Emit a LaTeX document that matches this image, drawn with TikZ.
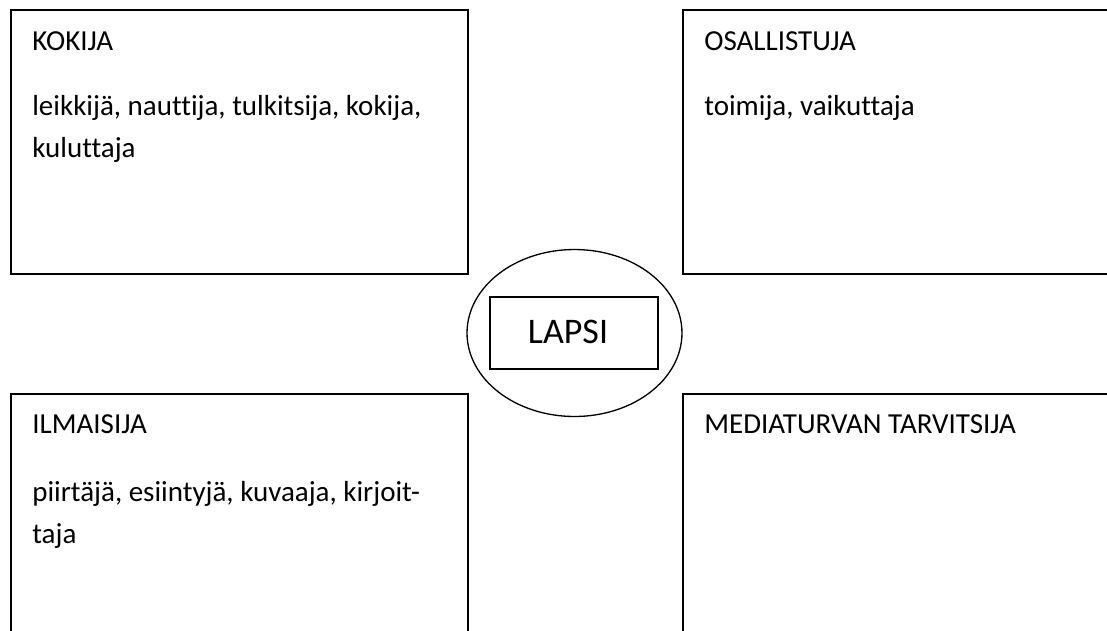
\documentclass[tikz,border=0pt]{standalone}
\usepackage{fontspec}
\setmainfont[Ligatures=NoCommon]{Carlito}
\usetikzlibrary{shapes,positioning}

\begin{document}
\begin{tikzpicture}[
    x=0.02cm, y=-0.02cm,
    role/.style={rectangle, draw, line width=1.1pt, minimum width=9.14cm, minimum height=5.28cm, anchor=north west, inner sep=0pt},
    roletext/.style={anchor=north west, inner sep=0pt, align=left, font=\fontsize{16.5}{24.4}\selectfont},
    child/.style={ellipse, draw, line width=0.75pt, minimum width=4.3cm, minimum height=3.34cm, inner sep=0pt},
    childbox/.style={rectangle, draw, line width=0.75pt, minimum width=3.36cm, minimum height=1.44cm},
    childname/.style={inner sep=0pt, font=\fontsize{20.5}{24}\selectfont}
]
\useasboundingbox (0,0) rectangle (1107,630);
\clip (0,0) rectangle (1107,630);

% Role boxes
\node[role] (kokija) at (10,9) {};
\node[role] (osallistuja) at (682,9) {};
\node[role] (ilmaisija) at (10,393) {};
\node[role] (mediaturva) at (682,393) {};

% Texts in the boxes
\node[roletext] (kokija-text) at (32,31) {
    KOKIJA\\[0.44cm]
    leikkijä, nauttija, tulkitsija, kokija,\\
    kuluttaja
};
\node[roletext] (osallistuja-text) at (704,31) {
    OSALLISTUJA\\[0.44cm]
    toimija, vaikuttaja
};
\node[roletext] (ilmaisija-text) at (32,414) {
    ILMAISIJA\\[0.5cm]
    piirtäjä, esiintyjä, kuvaaja, kirjoit-\\
    taja
};
\node[roletext] (mediaturva-text) at (704,414) {
    MEDIATURVAN TARVITSIJA
};

% Child in the middle
\node[child] (lapsi-ellipse) at (574.5,333) {};
\node[childbox] (lapsi-box) at (574,333) {};
\node[childname] (lapsi) at (568,332) {LAPSI};

\end{tikzpicture}
\end{document}
